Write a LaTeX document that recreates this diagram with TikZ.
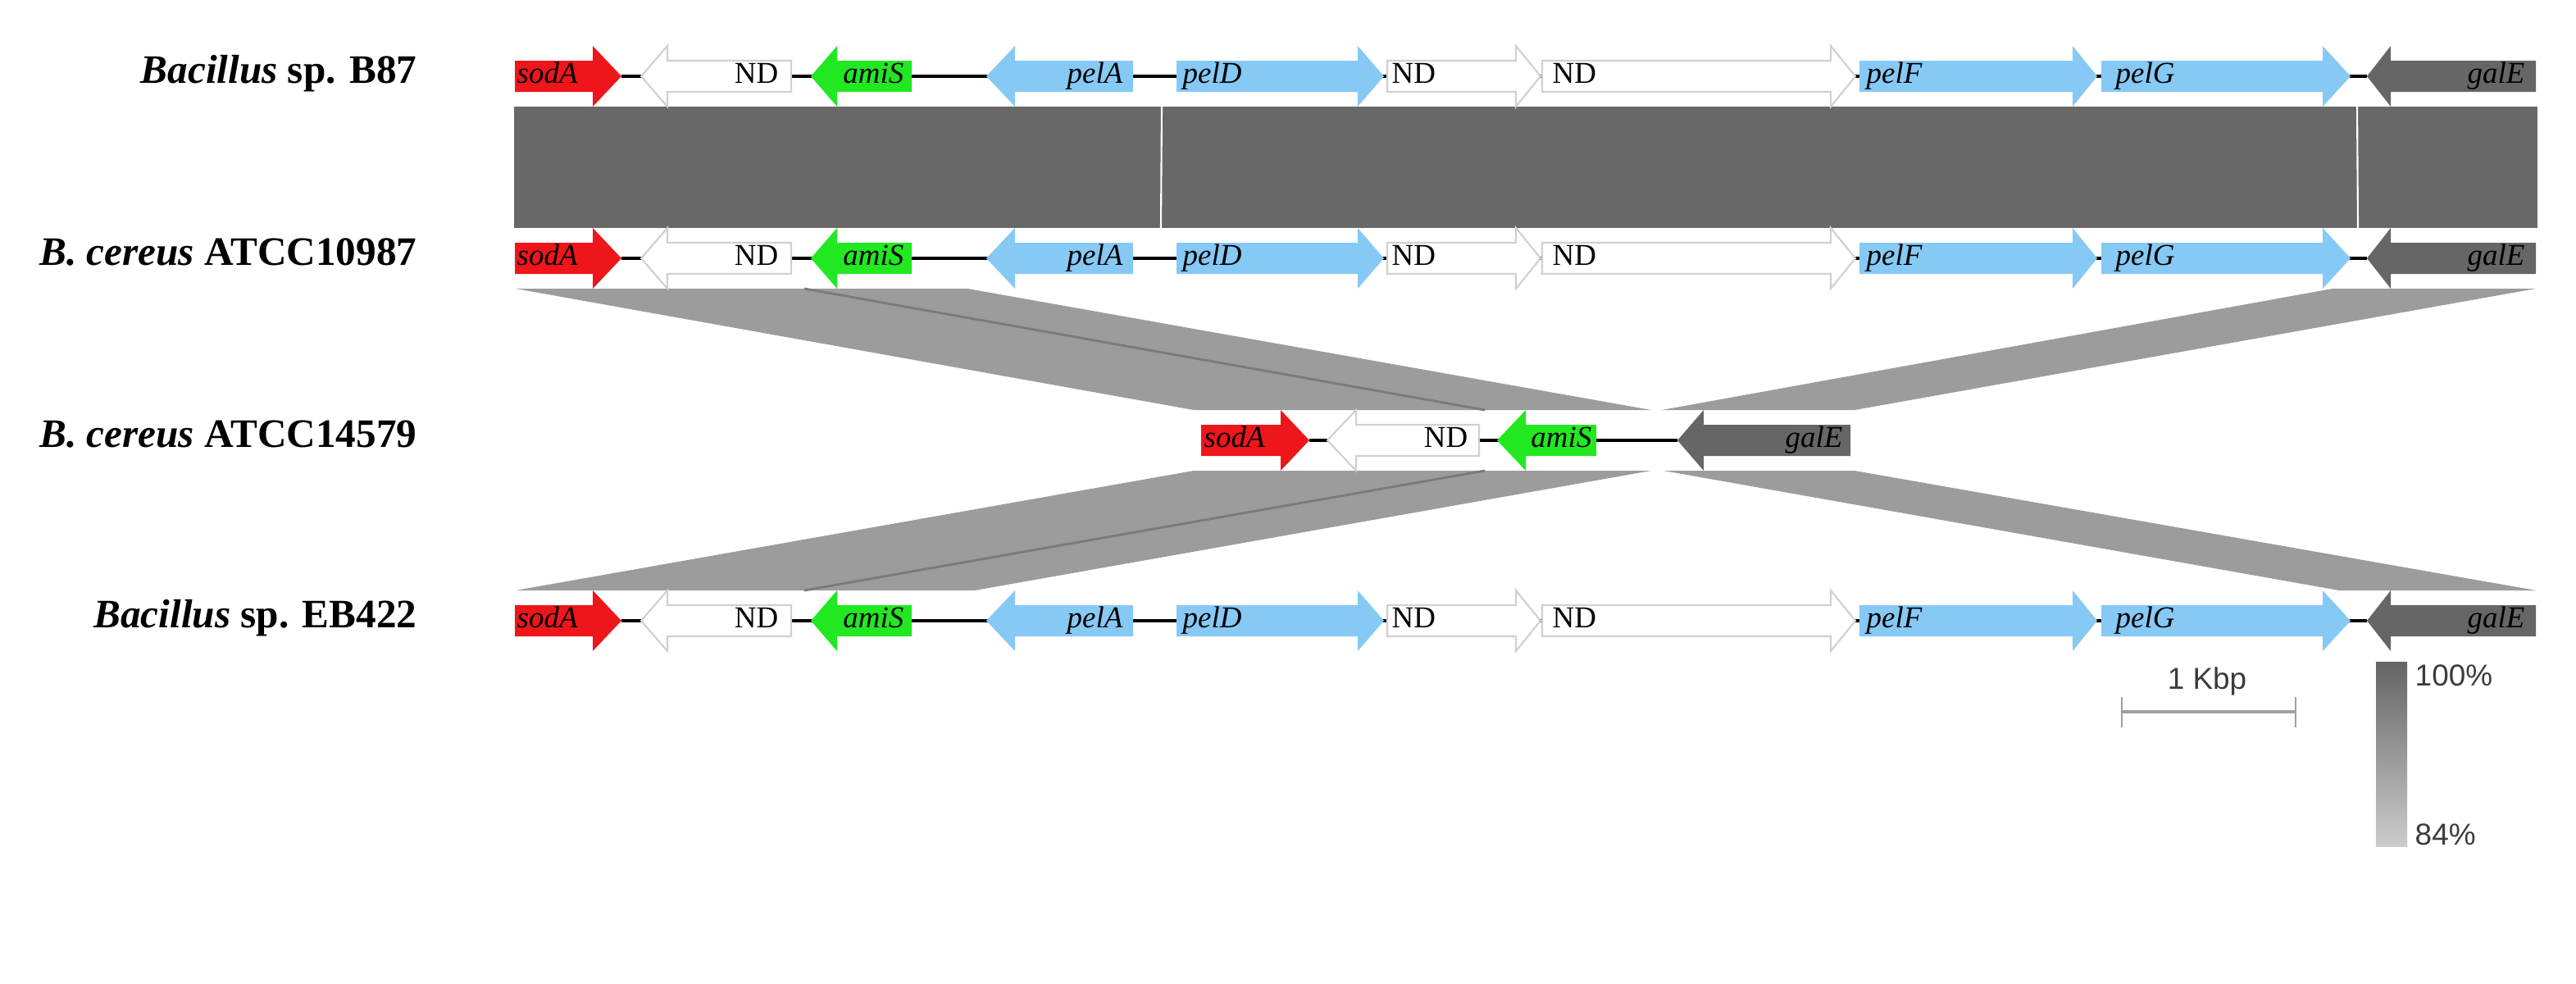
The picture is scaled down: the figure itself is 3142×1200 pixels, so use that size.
\documentclass[tikz,border=0pt]{standalone}
\usepackage{fontspec}
\setmainfont{Liberation Serif}
\newfontfamily\legendfont{Liberation Sans}
\definecolor{sodred}{RGB}{238,22,26}
\definecolor{amigreen}{RGB}{34,232,34}
\definecolor{pelblue}{RGB}{135,201,245}
\definecolor{galgrey}{RGB}{102,102,102}
\definecolor{ndedge}{RGB}{208,208,208}
\definecolor{bandone}{RGB}{104,104,104}
\definecolor{bandtwo}{RGB}{156,156,156}
\definecolor{bandline}{RGB}{122,122,122}
\definecolor{legendgrey}{RGB}{60,60,60}
\definecolor{scalegrey}{RGB}{160,160,160}
\definecolor{gradtop}{RGB}{100,100,100}
\definecolor{gradbot}{RGB}{204,204,204}
\newcommand\GeneR[5]{% start, head base, tip, y, style
  \path[#5] (#1,#4-19) -- (#2,#4-19) -- (#2,#4-37) -- (#3,#4) -- (#2,#4+37) -- (#2,#4+19) -- (#1,#4+19) -- cycle;}
\newcommand\GeneL[5]{% tip, head base, end, y, style
  \path[#5] (#3,#4-19) -- (#2,#4-19) -- (#2,#4-37) -- (#1,#4) -- (#2,#4+37) -- (#2,#4+19) -- (#3,#4+19) -- cycle;}
\tikzset{
  rowlab/.style={anchor=mid east, inner sep=0pt, font=\fontsize{14}{16}\selectfont\bfseries},
  glabL/.style={anchor=mid west, inner sep=0pt, font=\fontsize{10.5}{12}\selectfont\itshape},
  glabR/.style={anchor=mid east, inner sep=0pt, font=\fontsize{10.5}{12}\selectfont\itshape},
  ndlabL/.style={anchor=mid west, inner sep=0pt, font=\fontsize{10.5}{12}\selectfont},
  ndlabR/.style={anchor=mid east, inner sep=0pt, font=\fontsize{10.5}{12}\selectfont},
  legtext/.style={inner sep=0pt, font=\fontsize{10.5}{12}\selectfont\legendfont, text=legendgrey},
  backbone/.style={draw=black, line width=1.4pt},
  ndgene/.style={fill=white, draw=ndedge, line width=0.6pt},
  redgene/.style={fill=sodred},
  greengene/.style={fill=amigreen},
  bluegene/.style={fill=pelblue},
  greygene/.style={fill=galgrey},
  bandtop/.style={fill=bandone},
  bandx/.style={fill=bandtwo},
  bandsep/.style={draw=bandline, line width=0.8pt},
  gapline/.style={draw=white, line width=0.6pt},
  scaleline/.style={draw=scalegrey, line width=1.1pt},
}
\begin{document}
\begin{tikzpicture}[x=0.01cm,y=-0.01cm]
\path[fill=white, use as bounding box] (0,0) rectangle (3142,1200);

% ---- similarity bands ----
\path[bandtop] (627,130) rectangle (3095,278);
\draw[gapline] (1417,130) -- (1416,278);
\draw[gapline] (2875,130) -- (2876,278);

\path[bandx] (629,352) -- (981,352) -- (1811,500) -- (1456,500) -- cycle;
\path[bandx] (981,352) -- (1180,352) -- (2014,500) -- (1811,500) -- cycle;
\draw[bandsep] (981,352) -- (1811,500);
\path[bandx] (2845,352) -- (3093,352) -- (2262,500) -- (2027,500) -- cycle;

\path[bandx] (1456,574) -- (1811,574) -- (981,720) -- (629,720) -- cycle;
\path[bandx] (1811,574) -- (2014,574) -- (1189,720) -- (981,720) -- cycle;
\draw[bandsep] (1811,574) -- (981,720);
\path[bandx] (2029,574) -- (2262,574) -- (3093,720) -- (2853,720) -- cycle;

% ---- full loci (rows 1, 2, 4) ----
\foreach \yy/\rn in {93/a,315/b,757/d}{
  \draw[backbone] (758,\yy) -- (2887,\yy);
  \GeneR{628}{723}{758}{\yy}{redgene}
  \GeneL{782}{814}{965}{\yy}{ndgene}
  \GeneL{989}{1021}{1112}{\yy}{greengene}
  \GeneL{1203}{1238}{1382}{\yy}{bluegene}
  \GeneR{1435}{1656}{1688}{\yy}{bluegene}
  \GeneR{1692}{1849}{1879}{\yy}{ndgene}
  \GeneR{1881}{2233}{2263}{\yy}{ndgene}
  \GeneR{2268}{2528}{2558}{\yy}{bluegene}
  \GeneR{2563}{2833}{2867}{\yy}{bluegene}
  \GeneL{2887}{2916}{3093}{\yy}{greygene}
  \node[glabL] (sodA\rn) at (630,\yy) {sodA};
  \node[ndlabR] (ndA\rn) at (950,\yy) {ND};
  \node[glabR] (amiS\rn) at (1103,\yy) {amiS};
  \node[glabR] (pelA\rn) at (1370,\yy) {pelA};
  \node[glabL] (pelD\rn) at (1442,\yy) {pelD};
  \node[ndlabL] (ndB\rn) at (1697,\yy) {ND};
  \node[ndlabL] (ndC\rn) at (1893,\yy) {ND};
  \node[glabL] (pelF\rn) at (2276,\yy) {pelF};
  \node[glabL] (pelG\rn) at (2580,\yy) {pelG};
  \node[glabR] (galE\rn) at (3080,\yy) {galE};
}

% ---- short locus (row 3) ----
\draw[backbone] (1597,537) -- (2046,537);
\GeneR{1465}{1562}{1597}{537}{redgene}
\GeneL{1619}{1654}{1804}{537}{ndgene}
\GeneL{1826}{1861}{1947}{537}{greengene}
\GeneL{2046}{2078}{2257}{537}{greygene}
\node[glabL] (sodAc) at (1468,537) {sodA};
\node[ndlabR] (ndAc) at (1791,537) {ND};
\node[glabR] (amiSc) at (1942,537) {amiS};
\node[glabR] (galEc) at (2248,537) {galE};

% ---- strain labels ----
\node[rowlab] (labB87) at (509,93) {\textit{Bacillus} sp. B87};
\node[rowlab] (lab10987) at (509,315) {\textit{B. cereus} ATCC10987};
\node[rowlab] (lab14579) at (509,537) {\textit{B. cereus} ATCC14579};
\node[rowlab] (labEB422) at (509,757) {\textit{Bacillus} sp. EB422};

% ---- scale bar ----
\coordinate (sbL) at (2588,868);
\coordinate (sbR) at (2800,868);
\draw[scaleline] (sbL) -- (sbR);
\draw[scaleline, line width=0.8pt] (2588,850) -- (2588,887);
\draw[scaleline, line width=0.8pt] (2800,850) -- (2800,887);
\node[legtext, anchor=base] (kbp) at (2692,840) {1 Kbp};

% ---- identity gradient ----
\shade[top color=gradtop, bottom color=gradbot] (2898,807) rectangle (2936,1032);
\node[legtext, anchor=base west] (p100) at (2945,836) {100\%};
\node[legtext, anchor=base west] (p84) at (2945,1030) {84\%};
\end{tikzpicture}
\end{document}
